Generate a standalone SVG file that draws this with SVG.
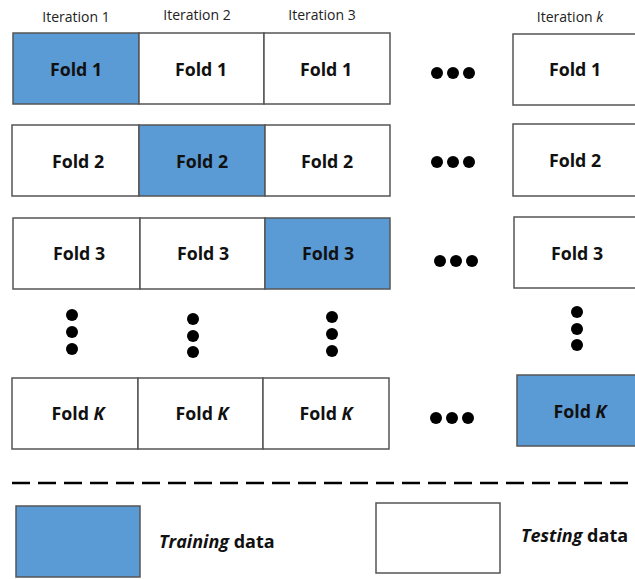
<svg xmlns="http://www.w3.org/2000/svg" width="635" height="579" viewBox="0 0 635 579">
<style>
.cell{fill:#fff;stroke:#555;stroke-width:1.5}
.train{fill:#5b9bd5;stroke:#555;stroke-width:1.5}
.lbl{font-family:"Open Sans","Liberation Sans",sans-serif;font-weight:bold;font-size:17.8px;fill:#111;text-anchor:middle}
.hdr{font-family:"Open Sans","Liberation Sans",sans-serif;font-size:14px;fill:#222;text-anchor:middle}
.dot{fill:#000}
.leg{font-family:"Open Sans","Liberation Sans",sans-serif;font-weight:bold;font-size:18px;fill:#111}
</style>
<rect width="635" height="579" fill="#fff"/>
<g id="headers">
<text class="hdr" x="76" y="22">Iteration 1</text>
<text class="hdr" x="197" y="20">Iteration 2</text>
<text class="hdr" x="322" y="20">Iteration 3</text>
<text class="hdr" x="570" y="22">Iteration <tspan font-style="italic">k</tspan></text>
</g>
<g id="row1">
<g id="r1c1"><rect class="train" x="13" y="33" width="126" height="71"/><text class="lbl" x="76" y="76">Fold 1</text></g>
<g id="r1c2"><rect class="cell" x="139" y="33" width="125" height="71"/><text class="lbl" x="201" y="76">Fold 1</text></g>
<g id="r1c3"><rect class="cell" x="264" y="33" width="126" height="71"/><text class="lbl" x="326" y="76">Fold 1</text></g>
<g id="r1ck"><rect class="cell" x="513" y="34" width="126" height="71"/><text class="lbl" x="575" y="76">Fold 1</text></g>
</g>
<g id="row2">
<g id="r2c1"><rect class="cell" x="12" y="125" width="127" height="71"/><text class="lbl" x="78" y="168">Fold 2</text></g>
<g id="r2c2"><rect class="train" x="139" y="125" width="126" height="71"/><text class="lbl" x="202" y="168">Fold 2</text></g>
<g id="r2c3"><rect class="cell" x="265" y="125" width="125" height="71"/><text class="lbl" x="327" y="168">Fold 2</text></g>
<g id="r2ck"><rect class="cell" x="513" y="124" width="126" height="72"/><text class="lbl" x="575" y="167">Fold 2</text></g>
</g>
<g id="row3">
<g id="r3c1"><rect class="cell" x="13" y="218" width="127" height="71"/><text class="lbl" x="79" y="260">Fold 3</text></g>
<g id="r3c2"><rect class="cell" x="140" y="218" width="125" height="71"/><text class="lbl" x="203" y="260">Fold 3</text></g>
<g id="r3c3"><rect class="train" x="265" y="218" width="125" height="71"/><text class="lbl" x="328" y="260">Fold 3</text></g>
<g id="r3ck"><rect class="cell" x="514" y="217" width="126" height="71"/><text class="lbl" x="577" y="260">Fold 3</text></g>
</g>
<g id="rowK">
<g id="rKc1"><rect class="cell" x="12" y="378" width="126" height="71"/><text class="lbl" x="78" y="420">Fold <tspan font-style="italic">K</tspan></text></g>
<g id="rKc2"><rect class="cell" x="138" y="378" width="125" height="71"/><text class="lbl" x="202" y="420">Fold <tspan font-style="italic">K</tspan></text></g>
<g id="rKc3"><rect class="cell" x="263" y="378" width="126" height="71"/><text class="lbl" x="326" y="420">Fold <tspan font-style="italic">K</tspan></text></g>
<g id="rKck"><rect class="train" x="517" y="375" width="126" height="71"/><text class="lbl" x="580" y="418">Fold <tspan font-style="italic">K</tspan></text></g>
</g>
<g id="ellipses">
<circle class="dot" cx="437" cy="73" r="6"/><circle class="dot" cx="453" cy="73" r="6"/><circle class="dot" cx="469" cy="73" r="6"/>
<circle class="dot" cx="437" cy="162" r="6"/><circle class="dot" cx="453" cy="162" r="6"/><circle class="dot" cx="469" cy="162" r="6"/>
<circle class="dot" cx="440" cy="261" r="6"/><circle class="dot" cx="456" cy="261" r="6"/><circle class="dot" cx="472" cy="261" r="6"/>
<circle class="dot" cx="436" cy="418" r="6"/><circle class="dot" cx="452" cy="418" r="6"/><circle class="dot" cx="468" cy="418" r="6"/>
<circle class="dot" cx="72" cy="315" r="6"/><circle class="dot" cx="72" cy="332" r="6"/><circle class="dot" cx="72" cy="349" r="6"/>
<circle class="dot" cx="193" cy="319" r="6"/><circle class="dot" cx="193" cy="336" r="6"/><circle class="dot" cx="193" cy="352" r="6"/>
<circle class="dot" cx="332" cy="317" r="6"/><circle class="dot" cx="332" cy="334" r="6"/><circle class="dot" cx="332" cy="351" r="6"/>
<circle class="dot" cx="577" cy="312" r="6"/><circle class="dot" cx="577" cy="329" r="6"/><circle class="dot" cx="577" cy="345" r="6"/>
</g>
<line x1="12" y1="483" x2="635" y2="483" stroke="#000" stroke-width="2.5" stroke-dasharray="18 8"/>
<g id="legend-training"><rect class="train" x="16" y="506" width="124" height="71"/><text class="leg" x="159" y="548"><tspan font-style="italic">Training</tspan> data</text></g>
<g id="legend-testing"><rect class="cell" x="376" y="503" width="124" height="70"/><text class="leg" x="521" y="542"><tspan font-style="italic">Testing</tspan> data</text></g>
</svg>
